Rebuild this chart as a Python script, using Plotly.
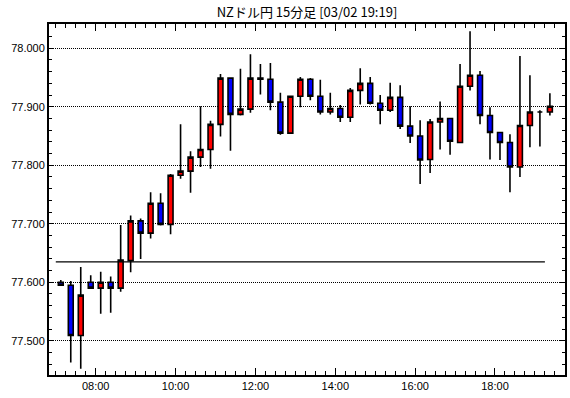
import pandas as pd
import plotly.graph_objects as go

# ---- data ----
start_time = "2023-03-02 07:00"
n_candles = 50
opens = [77.600, 77.595, 77.509, 77.600, 77.590, 77.600, 77.590, 77.637, 77.705, 77.684,
         77.735, 77.699, 77.783, 77.790, 77.814, 77.827, 77.870, 77.949, 77.887, 77.896,
         77.949, 77.947, 77.908, 77.855, 77.918, 77.947, 77.918, 77.891, 77.897, 77.882,
         77.928, 77.940, 77.906, 77.894, 77.916, 77.867, 77.850, 77.810, 77.874, 77.880,
         77.839, 77.935, 77.954, 77.885, 77.856, 77.839, 77.797, 77.868, 77.891, 77.891]
highs = [77.604, 77.602, 77.626, 77.612, 77.618, 77.610, 77.698, 77.714, 77.709, 77.754,
         77.752, 77.785, 77.870, 77.824, 77.901, 77.876, 77.956, 77.949, 77.965, 77.990,
         77.973, 77.975, 77.924, 77.918, 77.951, 77.949, 77.946, 77.924, 77.903, 77.932,
         77.966, 77.951, 77.920, 77.941, 77.937, 77.901, 77.877, 77.879, 77.909, 77.880,
         77.973, 78.029, 77.961, 77.899, 77.856, 77.853, 77.987, 77.954, 77.894, 77.923]
lows = [77.595, 77.463, 77.452, 77.590, 77.546, 77.548, 77.584, 77.617, 77.640, 77.675,
        77.697, 77.682, 77.777, 77.753, 77.797, 77.794, 77.849, 77.825, 77.885, 77.890,
        77.921, 77.894, 77.852, 77.855, 77.899, 77.911, 77.887, 77.887, 77.874, 77.874,
        77.904, 77.904, 77.870, 77.891, 77.862, 77.838, 77.768, 77.787, 77.827, 77.818,
        77.839, 77.928, 77.870, 77.810, 77.809, 77.754, 77.780, 77.831, 77.832, 77.885]
closes = [77.595, 77.509, 77.578, 77.590, 77.600, 77.590, 77.638, 77.705, 77.684, 77.735,
          77.699, 77.783, 77.790, 77.814, 77.827, 77.870, 77.949, 77.887, 77.896, 77.949,
          77.947, 77.908, 77.855, 77.918, 77.947, 77.918, 77.891, 77.897, 77.882, 77.928,
          77.940, 77.906, 77.894, 77.916, 77.867, 77.850, 77.809, 77.874, 77.880, 77.841,
          77.935, 77.954, 77.885, 77.856, 77.839, 77.797, 77.868, 77.891, 77.891, 77.901]
level_value = 77.635
y_ticks = [77.5, 77.6, 77.7, 77.8, 77.9, 78.0]
title_text = "NZドル円 15分足 [03/02 19:19]"

times = pd.date_range(start=start_time, periods=n_candles, freq="15min")

fig = go.Figure()
fig.add_trace(go.Candlestick(
    x=times, open=opens, high=highs, low=lows, close=closes,
    xperiod=15 * 60 * 1000, xperiodalignment="middle",
    increasing=dict(line=dict(color="black", width=1.6), fillcolor="#ff0000"),
    decreasing=dict(line=dict(color="black", width=1.6), fillcolor="#0000ff"),
    whiskerwidth=0, showlegend=False, hoverinfo="skip",
))
fig.add_trace(go.Scatter(
    x=[times[0], times[-1]], y=[level_value, level_value], mode="lines",
    line=dict(color="black", width=1.2), showlegend=False, hoverinfo="skip",
))

tick_font = dict(family="Liberation Sans", size=11, color="black")
fig.update_layout(
    width=570, height=398,
    margin=dict(l=49, r=5, t=24, b=23, autoexpand=False),
    paper_bgcolor="white", plot_bgcolor="white",
    boxgap=0.3,
    title=dict(text=title_text, x=0.5, xref="paper", xanchor="center",
               y=1 - 12 / 398, yref="container", yanchor="middle",
               font=dict(family="Noto Sans CJK JP", size=13, color="black")),
    xaxis=dict(
        automargin=False,
        range=["2023-03-02 06:49:48", "2023-03-02 19:45:12"],
        rangeslider=dict(visible=False),
        tickmode="linear", tick0="2023-03-02 00:00", dtick=2 * 3600 * 1000,
        tickformat="%H:%M", tickfont=tick_font,
        ticks="inside", ticklen=7, tickwidth=1, tickcolor="black",
        minor=dict(dtick=15 * 60 * 1000, ticks="inside", ticklen=4,
                   tickwidth=1, tickcolor="black", showgrid=False),
        showline=True, linecolor="black", linewidth=2, mirror="ticks",
        showgrid=False, zeroline=False,
    ),
    yaxis=dict(
        automargin=False,
        range=[77.4415, 78.0415],
        tickmode="array", tickvals=y_ticks,
        ticktext=[f"{v:.3f}" for v in y_ticks], tickfont=tick_font,
        ticks="inside", ticklen=5, tickwidth=1, tickcolor="black",
        minor=dict(dtick=0.02, tick0=77.5, ticks="inside", ticklen=3,
                   tickwidth=1, tickcolor="black", showgrid=False),
        showline=True, linecolor="black", linewidth=2, mirror="ticks",
        showgrid=True, gridcolor="black", gridwidth=1, griddash="1px,1px",
        zeroline=False,
    ),
)

fig.write_html("out.html", config={"displayModeBar": False},
               post_script="document.body.style.margin='0';")
